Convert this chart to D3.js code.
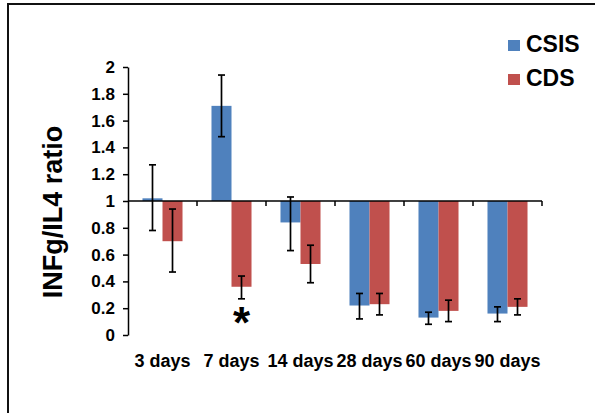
<!DOCTYPE html>
<html>
    <head>
        <meta charset="utf-8">
        <script src="https://cdn.jsdelivr.net/npm/d3@7/dist/d3.min.js" charset="utf-8"></script>
        <style type="text/css">
            body{
                margin: 0;
                padding: 0;
                background-color: #fff;
            }
            svg text{ font-family: Arial, "Liberation Sans", sans-serif; font-weight: bold; fill: #000; }
        </style>
    </head>
    <body>
        <svg id="chart" width="595" height="413"></svg>

        <script>
        /* data */
        var categories = ['3 days', '7 days', '14 days', '28 days', '60 days', '90 days'];
        var series = ['CSIS', 'CDS'];
        var colors = ['#4F81BD', '#C0504D'];

        var csisVals = [1.02, 1.71, 0.84, 0.22, 0.13, 0.16];
        var csisHi   = [1.27, 1.94, 1.03, 0.31, 0.17, 0.21];
        var csisLo   = [0.78, 1.48, 0.63, 0.12, 0.08, 0.10];

        var cdsVals = [0.70, 0.36, 0.53, 0.23, 0.18, 0.21];
        var cdsHi   = [0.94, 0.44, 0.67, 0.31, 0.26, 0.27];
        var cdsLo   = [0.47, 0.27, 0.39, 0.15, 0.10, 0.15];

        var yTicks = [0, 0.2, 0.4, 0.6, 0.8, 1, 1.2, 1.4, 1.6, 1.8, 2];
        var baseline = 1;
        var starAt = {cat: '7 days', series: 'CDS'};

        var svg = d3.select('#chart');

        // frame (only top and left edge show in the crop)
        svg.append('line').attr('x1', 7).attr('y1', 4).attr('x2', 595).attr('y2', 4)
            .attr('stroke', '#111').attr('stroke-width', 2);
        svg.append('line').attr('x1', 8).attr('y1', 4).attr('x2', 8).attr('y2', 413)
            .attr('stroke', '#111').attr('stroke-width', 2);

        var y = d3.scaleLinear().domain([0, 2]).range([335, 67]);
        var x = d3.scaleBand().domain(categories).range([128, 542])
            .paddingInner(0.42).paddingOuter(0.21);
        var xs = d3.scaleBand().domain(series).range([0, x.bandwidth()]);

        var rows = categories.map(function(c, i){
            return [
                {cat: c, s: 'CSIS', v: csisVals[i], hi: csisHi[i], lo: csisLo[i]},
                {cat: c, s: 'CDS',  v: cdsVals[i],  hi: cdsHi[i],  lo: cdsLo[i]}
            ];
        });
        var flat = d3.merge(rows);

        // bars hang from / stand on the 1.0 line
        svg.append('g').selectAll('rect').data(flat).enter().append('rect')
            .attr('x', function(d){ return x(d.cat) + xs(d.s); })
            .attr('width', xs.bandwidth())
            .attr('y', function(d){ return Math.min(y(d.v), y(baseline)); })
            .attr('height', function(d){ return Math.abs(y(d.v) - y(baseline)); })
            .attr('fill', function(d){ return colors[series.indexOf(d.s)]; });

        // y axis
        var yAxis = d3.axisLeft(y).tickValues(yTicks).tickSize(5).tickSizeOuter(0).tickPadding(8)
            .tickFormat(function(d){ return d3.format('~g')(+d.toFixed(1)); });
        var gy = svg.append('g').attr('transform', 'translate(128,0)').call(yAxis)
            .attr('font-family', null).attr('font-size', null);
        gy.select('.domain').attr('stroke', '#000').attr('stroke-width', 1.5);
        gy.selectAll('.tick line').attr('stroke', '#000').attr('stroke-width', 1.5);
        gy.selectAll('.tick text').attr('fill', '#000')
            .style('font-size', '17px').style('font-weight', 'bold');

        // x axis drawn along the 1.0 line, ticks at category boundaries
        var bounds = categories.map(function(c){ return x(c) - x.step() * x.paddingInner() / 2; });
        bounds.push(542);
        var gx = svg.append('g');
        gx.append('line').attr('x1', 128).attr('x2', 542).attr('y1', y(baseline)).attr('y2', y(baseline))
            .attr('stroke', '#000').attr('stroke-width', 1.5);
        gx.selectAll('line.tk').data(bounds.slice(1)).enter().append('line').attr('class', 'tk')
            .attr('x1', function(d){ return d; }).attr('x2', function(d){ return d; })
            .attr('y1', y(baseline)).attr('y2', y(baseline) + 5)
            .attr('stroke', '#000').attr('stroke-width', 1.5);

        svg.append('g').selectAll('text').data(categories).enter().append('text')
            .attr('x', function(d){ return x(d) + x.bandwidth() / 2; })
            .attr('y', 367)
            .attr('text-anchor', 'middle')
            .style('font-size', '18px')
            .text(function(d){ return d; });

        // error bars
        var eb = svg.append('g').attr('stroke', '#000').attr('stroke-width', 1.7);
        flat.forEach(function(d){
            var cx = x(d.cat) + xs(d.s) + xs.bandwidth() / 2;
            eb.append('line').attr('x1', cx).attr('x2', cx).attr('y1', y(d.hi)).attr('y2', y(d.lo));
            eb.append('line').attr('x1', cx - 3.5).attr('x2', cx + 3.5).attr('y1', y(d.hi)).attr('y2', y(d.hi));
            eb.append('line').attr('x1', cx - 3.5).attr('x2', cx + 3.5).attr('y1', y(d.lo)).attr('y2', y(d.lo));
        });

        // significance mark
        svg.append('text')
            .attr('x', x(starAt.cat) + xs(starAt.series) + xs.bandwidth() / 2)
            .attr('y', 338)
            .attr('text-anchor', 'middle')
            .style('font-size', '44px')
            .text('*');

        // y title
        svg.append('text')
            .attr('transform', 'translate(62,212) rotate(-90)')
            .attr('text-anchor', 'middle')
            .style('font-size', '27px')
            .text('INFg/IL4 ratio');

        // legend
        var lg = svg.append('g').selectAll('g').data(series).enter().append('g')
            .attr('transform', function(d, i){ return 'translate(508,' + (40 + i * 34) + ')'; });
        lg.append('rect').attr('width', 12).attr('height', 11)
            .attr('fill', function(d, i){ return colors[i]; });
        lg.append('text').attr('x', 18).attr('y', 12).style('font-size', '23px')
            .text(function(d){ return d; });
        </script>
    </body>
</html>
